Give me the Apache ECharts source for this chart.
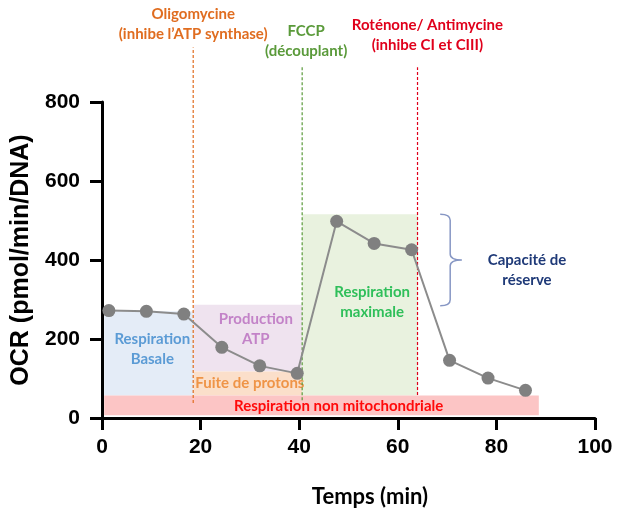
<!DOCTYPE html>
<html><head><meta charset="utf-8">
<script src="https://cdn.jsdelivr.net/npm/echarts@6/dist/echarts.min.js"></script>
<style>html,body{margin:0;padding:0;background:#fff}#c{width:624px;height:513px}</style>
</head><body><div id="c"></div>
<script>
// ---- data ----
const timeMin = [1.4, 9.0, 16.6, 24.3, 32.0, 39.6, 47.6, 55.2, 62.8, 70.5, 78.3, 85.9];
const ocr     = [272, 270, 263, 179, 132, 113, 498, 442, 426, 146, 101, 70];
const xTicks = [0, 20, 40, 60, 80, 100];
const yTicks = [0, 200, 400, 600, 800];

// injections (vertical dashed lines): time, line bottom, line top (data units)
const injectionTime   = [18.5, 40.6, 64.0];
const injectionBottom = [38, 45, 58];
const injectionTop    = [938, 893, 888];
const injectionLabels = ['Oligomycine\n(inhibe l\u2019ATP synthase)', 'FCCP\n(d\u00e9couplant)', 'Rot\u00e9none/ Antimycine\n(inhibe CI et CIII)'];
const injectionLabelX = [18.5, 41.4, 66.0];
const injectionLabelY = [946, 903, 918];
const injectionColors = ['#e06d20', '#5a9a3a', '#e0001b'];

// shaded regions (time start/end, OCR bottom/top)
const regionNames = ['Respiration\nBasale', 'Production\nATP', 'Fuite de protons', 'Respiration\nmaximale', 'Respiration non mitochondriale'];
const regionX0 = [0.45, 18.6, 18.6, 40.6, 0.45];
const regionX1 = [18.6, 40.6, 40.6, 64.1, 88.6];
const regionY0 = [57, 118, 57, 57, 7];
const regionY1 = [270, 287, 118, 516, 57];
const regionLabelX = [10.2, 31.2, 30.0, 54.8, 48.0];
const regionLabelY = [174, 224, 88, 294, 30];
const regionFill  = ['#e4ecf7', '#efe3ef', '#fbdfca', '#e9f2df', '#fcc5c5'];
const regionText  = ['#5b9bd5', '#c383c8', '#ef9447', '#2fbf5a', '#ff0a0a'];

// spare capacity brace
const braceX = 68.6, braceTipX = 73.0, braceTop = 516, braceBottom = 284;
const braceLabel = 'Capacit\u00e9 de\nr\u00e9serve';
const braceLabelX = 86.2, braceLabelY = 375;

const annFont = 'Lato, "Open Sans", sans-serif';

const chart = echarts.init(document.getElementById('c'));

const option = {
  animation: false,
  backgroundColor: '#fff',
  grid: { left: 102, right: 29, top: 102, bottom: 93 },
  xAxis: {
    type: 'value', min: xTicks[0], max: xTicks[xTicks.length - 1], interval: xTicks[1] - xTicks[0],
    name: 'Temps (min)', nameLocation: 'middle', nameGap: 68,
    nameTextStyle: { fontFamily: annFont, fontWeight: 'bold', fontSize: 22, color: '#000', padding: [0, 0, 0, 43] },
    axisLine: { onZero: false, lineStyle: { color: '#000', width: 3 } },
    axisTick: { length: 12, lineStyle: { color: '#000', width: 3 } },
    axisLabel: { fontFamily: '"Liberation Sans", Arial, sans-serif', fontWeight: 'bold', fontSize: 21, color: '#000', margin: 19 },
    splitLine: { show: false }
  },
  yAxis: {
    type: 'value', min: yTicks[0], max: yTicks[yTicks.length - 1], interval: yTicks[1] - yTicks[0],
    name: 'OCR (pmol/min/DNA)', nameLocation: 'middle', nameGap: 64,
    nameTextStyle: { fontFamily: '"Liberation Sans", Arial, sans-serif', fontWeight: 'bold', fontSize: 25, color: '#000' },
    axisLine: { onZero: false, lineStyle: { color: '#000', width: 3 } },
    axisTick: { length: 12, lineStyle: { color: '#000', width: 3 } },
    axisLabel: { fontFamily: '"Liberation Sans", Arial, sans-serif', fontWeight: 'bold', fontSize: 21, color: '#000', margin: 22 },
    splitLine: { show: false }
  },
  series: [
    {
      type: 'custom', z: 1, clip: false,
      data: regionNames.map((n, i) => [regionX0[i], regionX1[i], regionY0[i], regionY1[i]]),
      encode: { x: [0, 1], y: [2, 3] },
      renderItem: function (params, api) {
        const i = params.dataIndex;
        const a = api.coord([api.value(0), api.value(3)]);
        const b = api.coord([api.value(1), api.value(2)]);
        const l = api.coord([regionLabelX[i], regionLabelY[i]]);
        return { type: 'group', children: [
          { type: 'rect', shape: { x: a[0], y: a[1], width: b[0] - a[0], height: b[1] - a[1] }, style: { fill: regionFill[i] } },
          { type: 'text', z2: 10, x: l[0], y: l[1], style: { text: regionNames[i], fill: regionText[i], font: 'bold 15px ' + annFont, align: 'center', verticalAlign: 'middle', lineHeight: 20 } }
        ] };
      }
    },
    {
      type: 'custom', z: 3, clip: false,
      data: injectionTime.map((t, i) => [t, injectionBottom[i], injectionTop[i]]),
      encode: { x: 0, y: [1, 2] },
      renderItem: function (params, api) {
        const i = params.dataIndex;
        const b = api.coord([api.value(0), api.value(1)]);
        const t = api.coord([api.value(0), api.value(2)]);
        const l = api.coord([injectionLabelX[i], injectionLabelY[i]]);
        return { type: 'group', children: [
          { type: 'line', shape: { x1: b[0], y1: b[1], x2: t[0], y2: t[1] }, style: { stroke: injectionColors[i], lineWidth: 1.2, lineDash: [3, 2] } },
          { type: 'text', x: l[0], y: l[1], style: { text: injectionLabels[i], fill: injectionColors[i], font: 'bold 15px ' + annFont, align: 'center', verticalAlign: 'bottom', lineHeight: 20 } }
        ] };
      }
    },
    {
      type: 'custom', z: 3, clip: false,
      data: [[braceX, braceTop, braceBottom, braceTipX]],
      renderItem: function (params, api) {
        const top = api.coord([api.value(0), api.value(1)]);
        const bot = api.coord([api.value(0), api.value(2)]);
        const tip = api.coord([api.value(3), (api.value(1) + api.value(2)) / 2]);
        const xl = top[0], xv = xl + 10, yt = top[1], yb = bot[1], ym = tip[1], r = 6, xt = tip[0];
        const d = 'M' + xl + ',' + yt + ' Q' + xv + ',' + yt + ' ' + xv + ',' + (yt + r) +
          ' L' + xv + ',' + (ym - r) + ' Q' + xv + ',' + ym + ' ' + xt + ',' + ym +
          ' Q' + xv + ',' + ym + ' ' + xv + ',' + (ym + r) +
          ' L' + xv + ',' + (yb - r) + ' Q' + xv + ',' + yb + ' ' + xl + ',' + yb;
        const l = api.coord([braceLabelX, braceLabelY]);
        return { type: 'group', children: [
          { type: 'path', shape: { pathData: d }, style: { fill: null, stroke: '#8797c4', lineWidth: 1.5 } },
          { type: 'text', x: l[0], y: l[1], style: { text: braceLabel, fill: '#1f3a78', font: 'bold 15px ' + annFont, align: 'center', verticalAlign: 'middle', lineHeight: 20 } }
        ] };
      }
    },
    {
      type: 'line', z: 5,
      data: timeMin.map((t, i) => [t, ocr[i]]),
      symbol: 'circle', symbolSize: 13,
      itemStyle: { color: '#808080' },
      lineStyle: { color: '#8c8c8c', width: 2 }
    }
  ]
};
chart.setOption(option);
</script>
</body></html>
